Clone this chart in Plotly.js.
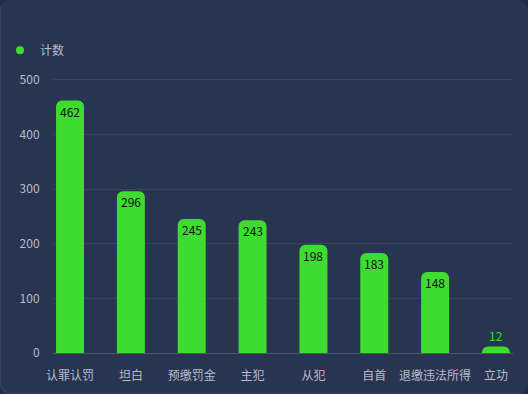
<!DOCTYPE html>
<html>
<head>
<meta charset="utf-8">
<script src="https://cdn.plot.ly/plotly-3.0.1.min.js"></script>
<style>
html,body{margin:0;padding:0;background:#222c42;}
#wrap{position:absolute;left:0;top:0;width:528px;height:394px;background:#283450;border-radius:10px;overflow:hidden;box-shadow:inset 1px -1px 0 #33405c;}
#chart{width:528px;height:394px;}
</style>
</head>
<body>
<div id="wrap"><div id="chart"></div></div>
<script>
var categories = ['认罪认罚','坦白','预缴罚金','主犯','从犯','自首','退缴违法所得','立功'];
var counts = [462, 296, 245, 243, 198, 183, 148, 12];
var seriesName = '计数';
var yTicks = [0, 100, 200, 300, 400, 500];

var green = '#3ddc2f';
var font = '"Noto Sans CJK SC", "Noto Sans", sans-serif';

var bar = {
  type: 'bar',
  x: categories,
  y: counts,
  name: seriesName,
  showlegend: false,
  width: 0.46,
  marker: {color: green, cornerradius: 6, line: {width: 0}},
  hoverinfo: 'x+y'
};
var legendDot = {
  type: 'scatter',
  mode: 'markers',
  x: [categories[0]],
  y: [null],
  name: seriesName,
  marker: {color: green, size: 8, symbol: 'circle'},
  showlegend: true,
  hoverinfo: 'skip'
};

// value labels: inside top of bar (dark), or above the bar when too short (green)
var labels = categories.map(function(c, i){
  var v = counts[i];
  var inside = v >= 40;
  return {
    x: c, y: v, xref: 'x', yref: 'y',
    text: String(v),
    showarrow: false,
    yanchor: inside ? 'top' : 'bottom',
    font: {family: font, size: 12, color: inside ? '#111111' : green}
  };
});

var layout = {
  width: 528, height: 394,
  paper_bgcolor: 'rgba(0,0,0,0)',
  plot_bgcolor: 'rgba(0,0,0,0)',
  margin: {l: 53, r: 15, t: 77, b: 41},
  font: {family: font, size: 12, color: '#b4bccb'},
  showlegend: true,
  legend: {
    x: -0.12, y: 0.909, xref: 'paper', yref: 'container',
    xanchor: 'left', yanchor: 'top',
    orientation: 'h',
    bgcolor: 'rgba(0,0,0,0)',
    font: {family: font, size: 12, color: '#b4bccb'},
    itemwidth: 30
  },
  annotations: labels,
  xaxis: {
    type: 'category',
    range: [-0.28, 7.28],
    showgrid: false,
    zeroline: false,
    showline: false,
    ticks: 'outside', ticklen: 12, tickcolor: 'rgba(0,0,0,0)',
    tickfont: {family: font, size: 12, color: '#b4bccb'},
    fixedrange: true
  },
  yaxis: {
    range: [0, 505],
    tickvals: yTicks,
    ticktext: yTicks.map(String),
    showgrid: true,
    gridcolor: '#364360',
    gridwidth: 1,
    zeroline: true,
    zerolinecolor: '#4a5672',
    zerolinewidth: 1,
    showline: false,
    ticks: 'outside', ticklen: 10, tickcolor: 'rgba(0,0,0,0)',
    tickfont: {family: font, size: 12, color: '#b4bccb'},
    fixedrange: true
  },
  bargap: 0.5
};

Plotly.newPlot('chart', [bar, legendDot], layout, {displayModeBar: false, staticPlot: true});
</script>
</body>
</html>
